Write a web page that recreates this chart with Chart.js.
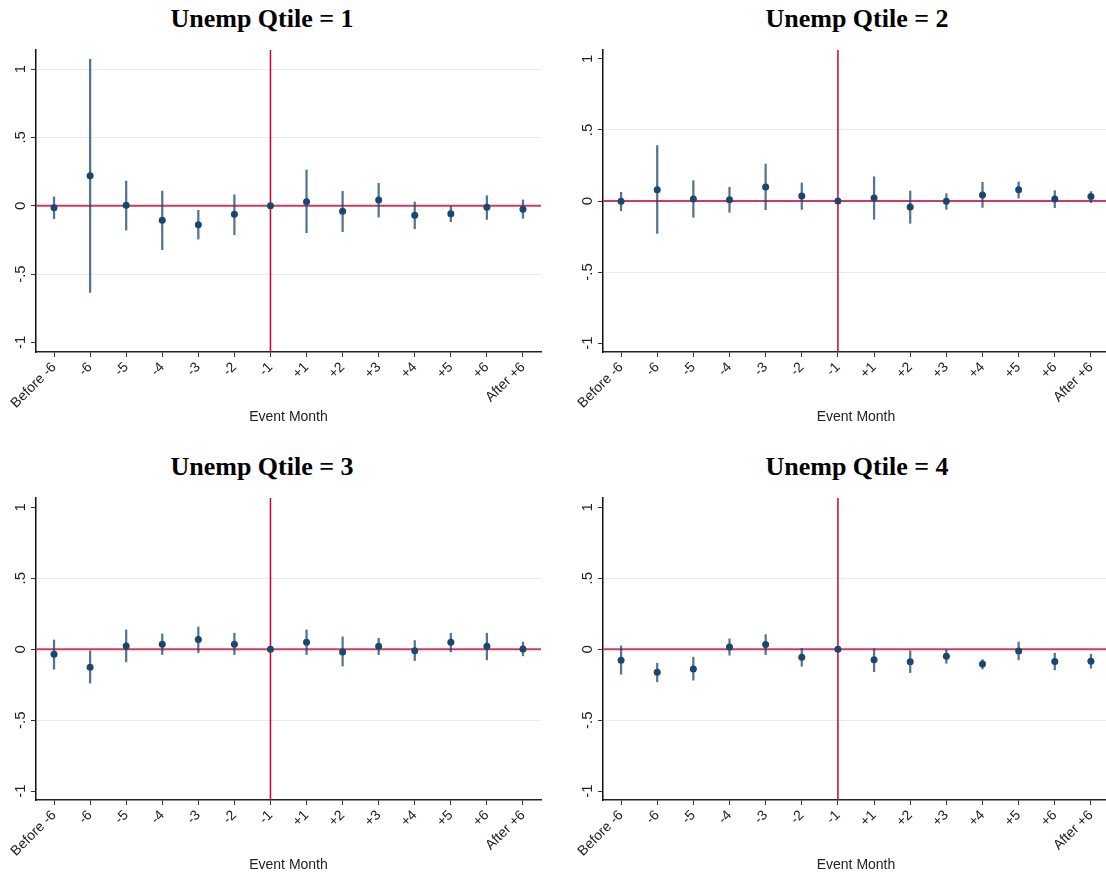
<!DOCTYPE html>
<html>
<head>
<meta charset="utf-8">
<script src="https://cdn.jsdelivr.net/npm/chart.js@4.4.0/dist/chart.umd.min.js"></script>
<style>
  html, body { margin: 0; padding: 0; background: #fff; overflow: hidden; width: 1106px; height: 877px; }
  .panel { position: absolute; }
  .ttl {
    position: absolute; transform: translateX(-50%); white-space: nowrap; color: #000;
    font: bold 26px "Liberation Serif", "Times New Roman", serif; line-height: 26px;
  }
</style>
</head>
<body>
<div class="ttl" style="left:262px;top:6px">Unemp Qtile = 1</div>
<div class="ttl" style="left:857px;top:6px">Unemp Qtile = 2</div>
<div class="ttl" style="left:262px;top:454px">Unemp Qtile = 3</div>
<div class="ttl" style="left:857px;top:454px">Unemp Qtile = 4</div>
<canvas id="c1" class="panel" width="548" height="440" style="left:0px;top:0px"></canvas>
<canvas id="c2" class="panel" width="548" height="440" style="left:567px;top:0px"></canvas>
<canvas id="c3" class="panel" width="548" height="440" style="left:0px;top:448px"></canvas>
<canvas id="c4" class="panel" width="548" height="440" style="left:567px;top:448px"></canvas>
<script>
// Event-study coefficients by unemployment quartile
const categories = ['Before -6', '-6', '-5', '-4', '-3', '-2', '-1', '+1', '+2', '+3', '+4', '+5', '+6', 'After +6'];
const eventCat = '-1';
const yTickValues = [-1, -0.5, 0, 0.5, 1];
const yTickLabels = ['-1', '-.5', '0', '.5', '1'];

const est1 = [-0.015, 0.22, 0.003, -0.107, -0.139, -0.063, 0, 0.029, -0.041, 0.042, -0.07, -0.058, -0.012, -0.026];
const lo1  = [-0.095, -0.634, -0.178, -0.322, -0.244, -0.212, null, -0.197, -0.19, -0.083, -0.168, -0.117, -0.1, -0.092];
const hi1  = [0.065, 1.071, 0.18, 0.107, -0.034, 0.08, null, 0.261, 0.105, 0.164, 0.027, -0.005, 0.073, 0.042];

const est2 = [-0.002, 0.08, 0.014, 0.009, 0.099, 0.035, 0, 0.021, -0.042, -0.002, 0.042, 0.08, 0.014, 0.031];
const lo2  = [-0.068, -0.228, -0.115, -0.08, -0.061, -0.059, null, -0.129, -0.157, -0.059, -0.045, 0.021, -0.047, -0.012];
const hi2  = [0.061, 0.39, 0.143, 0.096, 0.26, 0.127, null, 0.171, 0.07, 0.052, 0.131, 0.134, 0.073, 0.066];

const est3 = [-0.035, -0.127, 0.023, 0.035, 0.068, 0.035, 0, 0.049, -0.019, 0.021, -0.01, 0.049, 0.021, 0.002];
const lo3  = [-0.141, -0.239, -0.089, -0.038, -0.024, -0.038, null, -0.038, -0.118, -0.038, -0.08, -0.019, -0.075, -0.047];
const hi3  = [0.065, -0.012, 0.136, 0.108, 0.157, 0.113, null, 0.136, 0.087, 0.077, 0.061, 0.113, 0.113, 0.051];

const est4 = [-0.077, -0.162, -0.139, 0.016, 0.033, -0.056, 0, -0.075, -0.089, -0.049, -0.104, -0.012, -0.087, -0.085];
const lo4  = [-0.176, -0.23, -0.218, -0.042, -0.038, -0.12, null, -0.158, -0.165, -0.099, -0.139, -0.075, -0.146, -0.134];
const hi4  = [0.023, -0.099, -0.056, 0.073, 0.103, 0.007, null, 0.004, -0.012, 0.0, -0.073, 0.051, -0.028, -0.035];

const yRange1 = [-1.07, 1.139];
const yRange2 = [-1.063, 1.063];
const yRange3 = [-1.063, 1.066];
const yRange4 = [-1.063, 1.066];

const navy = '#1a476f';
const ciColor = 'rgba(26,71,111,0.75)';
const zeroColor = '#cf3a62';
const eventColor = '#d0002a';
const gridColor = '#e6eeee';

Chart.defaults.font.family = '"Liberation Sans", Arial, sans-serif';
Chart.defaults.color = '#222';

// red reference lines: y = 0 and the event month
const refLines = {
    id: 'refLines',
    beforeDatasetsDraw(chart) {
        const { ctx, chartArea: a, scales: { x, y } } = chart;
        const y0 = y.getPixelForValue(0);
        const xe = x.getPixelForValue(categories.indexOf(eventCat));
        ctx.save();
        ctx.strokeStyle = zeroColor;
        ctx.lineWidth = 2;
        ctx.beginPath(); ctx.moveTo(a.left, y0); ctx.lineTo(a.right, y0); ctx.stroke();
        ctx.strokeStyle = eventColor;
        ctx.lineWidth = 1.5;
        ctx.beginPath(); ctx.moveTo(xe, a.top); ctx.lineTo(xe, a.bottom); ctx.stroke();
        ctx.restore();
    }
};

function makePanel(id, est, lo, hi, yRange, padRight) {
    const ctx = document.getElementById(id);
    return new Chart(ctx, {
        type: 'bar',
        data: {
            labels: categories,
            datasets: [
                {
                    type: 'line',
                    data: est,
                    showLine: false,
                    pointRadius: 3.5,
                    pointBackgroundColor: navy,
                    pointBorderColor: navy,
                    pointBorderWidth: 0,
                    order: 0
                },
                {
                    type: 'bar',
                    data: lo.map((l, i) => (l === null ? null : [l, hi[i]])),
                    backgroundColor: ciColor,
                    borderWidth: 0,
                    barThickness: 1.6,
                    order: 1
                }
            ]
        },
        options: {
            responsive: false,
            animation: false,
            devicePixelRatio: 1,
            layout: { padding: { top: 50, left: 0, right: padRight, bottom: 0 } },
            plugins: { legend: { display: false }, tooltip: { enabled: false } },
            scales: {
                x: {
                    type: 'category',
                    offset: true,
                    afterFit: (s) => { s.height = 88; },
                    grid: { offset: false, drawOnChartArea: false, tickLength: 5, tickColor: '#333' },
                    border: { display: true, color: '#222', width: 1.5 },
                    ticks: {
                        autoSkip: false, minRotation: 45, maxRotation: 45, padding: 2,
                        font: { size: 14 }, color: '#222'
                    },
                    title: {
                        display: true, text: 'Event Month', font: { size: 14 }, color: '#222',
                        padding: { top: 0, bottom: 14 }
                    }
                },
                y: {
                    min: yRange[0],
                    max: yRange[1],
                    afterFit: (s) => { s.width = 36; },
                    afterBuildTicks: (s) => { s.ticks = yTickValues.map(v => ({ value: v })); },
                    grid: {
                        tickLength: 5,
                        tickColor: '#333',
                        lineWidth: 1,
                        color: (c) => {
                            if (!c.tick) return gridColor;
                            const v = c.tick.value;
                            const s = c.scale;
                            return (v - s.min < 0.1 || s.max - v < 0.1) ? 'rgba(0,0,0,0)' : gridColor;
                        }
                    },
                    border: { display: true, color: '#111', width: 1.5 },
                    ticks: {
                        minRotation: 90, maxRotation: 90, crossAlign: 'center', padding: 1,
                        font: { size: 15 }, color: '#222',
                        callback: (v) => yTickLabels[yTickValues.indexOf(v)]
                    }
                }
            }
        },
        plugins: [refLines]
    });
}

makePanel('c1', est1, lo1, hi1, yRange1, 7);
makePanel('c2', est2, lo2, hi2, yRange2, 6);
makePanel('c3', est3, lo3, hi3, yRange3, 7);
makePanel('c4', est4, lo4, hi4, yRange4, 6);
</script>
</body>
</html>
